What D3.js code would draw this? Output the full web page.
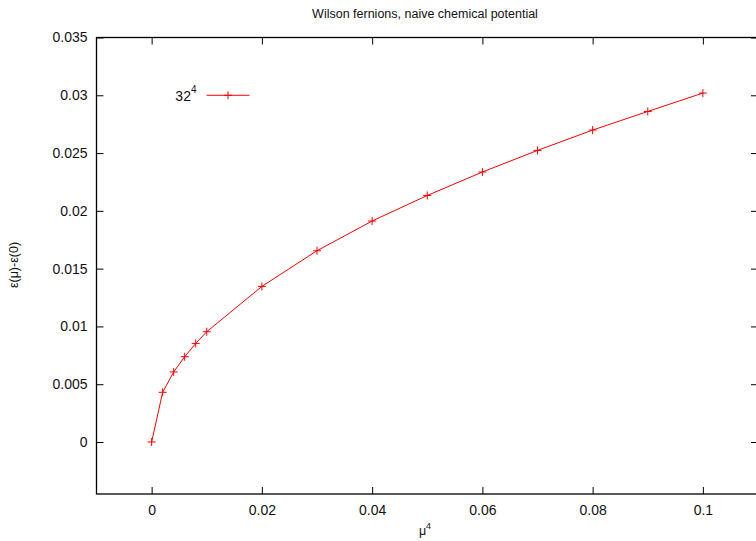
<!DOCTYPE html>
<html>
<head>
<meta charset="utf-8">
<script src="https://cdn.jsdelivr.net/npm/d3@7"></script>
<style>
  body { margin: 0; background: white; }
  text { font-family: "Liberation Sans", Arial, sans-serif; }
</style>
</head>
<body>
<div id="chart"></div>
<script>
let mu4 = [0, 0.002, 0.004, 0.006, 0.008, 0.01, 0.02, 0.03, 0.04, 0.05, 0.06, 0.07, 0.08, 0.09, 0.1]
let energy = [0, 0.0043, 0.00606, 0.00738, 0.00853, 0.00954, 0.01346, 0.01655, 0.01912, 0.02133, 0.02336, 0.02523, 0.02699, 0.0286, 0.03019]
let xTicks = [0, 0.02, 0.04, 0.06, 0.08, 0.1]
let yTicks = [0, 0.005, 0.01, 0.015, 0.02, 0.025, 0.03, 0.035]
let seriesName = '32'

let margin = { top: 37.5, left: 96.5, right: -2, bottom: 47 }
let width = 756 - margin.left - margin.right
let height = 541 - margin.top - margin.bottom

let svg = d3.select('#chart')
  .append('svg')
  .attr('width', 756)
  .attr('height', 541)

let holder = svg.append('g')
  .attr('transform', `translate(${margin.left},${margin.top})`)

let xScale = d3.scaleLinear().domain([-0.01, 0.11]).range([0, width])
let yScale = d3.scaleLinear().domain([-0.0045, 0.035]).range([height, 0])

let fmt = d => (d === 0 ? '0' : String(+d.toFixed(4)))

// frame
holder.append('rect')
  .attr('width', width)
  .attr('height', height)
  .attr('fill', 'none')
  .attr('stroke', '#000')
  .attr('stroke-width', 1.3)

function styleAxis(g) {
  g.select('.domain').remove()
  g.selectAll('line').attr('stroke', '#000')
  g.selectAll('text').attr('font-size', 14).attr('fill', '#111')
}

holder.append('g')
  .attr('transform', `translate(0,${height})`)
  .call(d3.axisBottom(xScale).tickValues(xTicks).tickFormat(fmt).tickSizeInner(-7).tickPadding(11))
  .call(styleAxis)

holder.append('g')
  .call(d3.axisTop(xScale).tickValues(xTicks).tickFormat('').tickSizeInner(-7))
  .call(styleAxis)

holder.append('g')
  .call(d3.axisLeft(yScale).tickValues(yTicks).tickFormat(fmt).tickSizeInner(-7).tickPadding(9))
  .call(styleAxis)

holder.append('g')
  .attr('transform', `translate(${width},0)`)
  .call(d3.axisRight(yScale).tickValues(yTicks).tickFormat('').tickSizeInner(-7))
  .call(styleAxis)

let points = mu4.map((x, i) => ({ x: x, y: energy[i] }))

let line = d3.line()
  .x(d => xScale(d.x))
  .y(d => yScale(d.y))

holder.append('path')
  .datum(points)
  .attr('d', line)
  .attr('fill', 'none')
  .attr('stroke', '#ff0000')
  .attr('stroke-width', 1)

function cross(g, cx, cy) {
  g.append('path')
    .attr('d', `M${cx - 4},${cy}H${cx + 4}M${cx},${cy - 4}V${cy + 4}`)
    .attr('stroke', '#ff0000')
    .attr('stroke-width', 1)
}

let marks = holder.append('g')
points.forEach(d => cross(marks, xScale(d.x), yScale(d.y)))

// legend
let legY = yScale(0.03)
let legend = holder.append('g')
legend.append('text')
  .attr('x', 100)
  .attr('y', legY + 6)
  .attr('text-anchor', 'end')
  .attr('font-size', 14)
  .attr('fill', '#111')
  .text(seriesName)
  .append('tspan')
  .attr('font-size', 10)
  .attr('dy', -8)
  .text('4')
legend.append('line')
  .attr('x1', 110).attr('x2', 153)
  .attr('y1', legY).attr('y2', legY)
  .attr('stroke', '#ff0000')
cross(legend, 131.5, legY)

// titles
svg.append('text')
  .attr('x', 425)
  .attr('y', 18)
  .attr('text-anchor', 'middle')
  .attr('font-size', 12.5)
  .attr('fill', '#111')
  .text('Wilson fernions, naive chemical potential')

svg.append('text')
  .attr('x', 425)
  .attr('y', 535)
  .attr('text-anchor', 'middle')
  .attr('font-size', 12.5)
  .attr('fill', '#111')
  .text('μ')
  .append('tspan')
  .attr('font-size', 9)
  .attr('dy', -6)
  .text('4')

svg.append('text')
  .attr('transform', 'translate(18,265) rotate(-90)')
  .attr('text-anchor', 'middle')
  .attr('font-size', 12.5)
  .attr('fill', '#111')
  .text('ε(μ)-ε(0)')
</script>
</body>
</html>
